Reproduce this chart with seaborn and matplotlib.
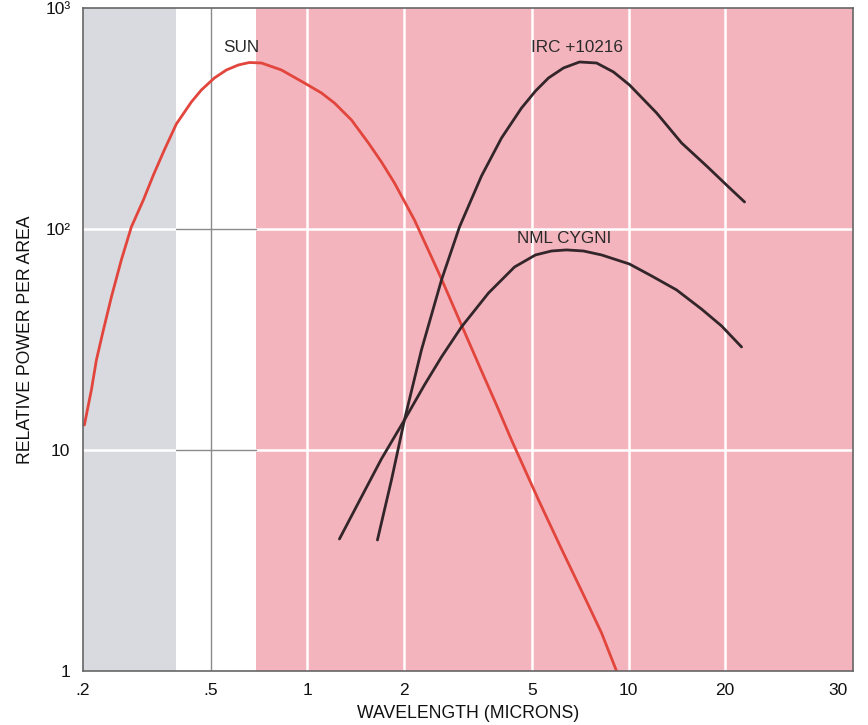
import matplotlib
matplotlib.use("Agg")
import matplotlib.pyplot as plt
import seaborn as sns
import pandas as pd

# ---- data ----
sun_wl = [0.2020, 0.2124, 0.2202, 0.2315, 0.2452, 0.2633, 0.2829, 0.3084, 0.3314,
          0.3584, 0.3907, 0.4351, 0.4674, 0.5133, 0.5595, 0.6096, 0.6596, 0.7190,
          0.8298, 0.9787, 1.1055, 1.2138, 1.3713, 1.5488, 1.7003, 1.8665, 2.1544,
          2.4337, 2.6150, 3.0180, 3.4842, 3.8800, 4.3200, 5.244, 6.183, 7.293,
          8.240, 9.175]
sun_pw = [12.97, 18.68, 25.54, 34.91, 49.25, 72.4, 102.1, 135.3, 175.5,
          227.8, 298.7, 375.5, 425.6, 482.4, 524.2, 552.2, 566.6, 563.7,
          524.2, 457.7, 412.6, 371.6, 311.3, 245.0, 201.0, 161.5, 109.8,
          74.7, 59.4, 36.78, 22.78, 15.98, 11.10, 5.94, 3.565, 2.162,
          1.486, 1.0]

irc_wl = [1.652, 1.827, 2.005, 2.265, 2.615, 2.975, 3.484, 4.022, 4.642, 5.132,
          5.633, 6.273, 7.037, 7.951, 8.979, 10.07, 12.23, 14.63, 17.50, 20.49,
          22.98]
irc_pw = [3.915, 7.32, 13.67, 28.35, 58.8, 102.1, 173.7, 258.1, 352.7, 421.1,
          482.4, 535.3, 569.6, 563.7, 513.3, 448.3, 334.9, 245.0, 192.8, 154.9,
          132.5]

nml_wl = [1.258, 1.473, 1.700, 2.005, 2.314, 2.615, 3.018, 3.664, 4.415, 5.132,
          5.755, 6.411, 7.241, 8.240, 10.07, 11.80, 14.11, 16.88, 19.49, 22.49]
nml_pw = [3.957, 6.13, 9.11, 13.67, 19.68, 26.36, 36.03, 51.33, 67.3, 76.3,
          79.5, 80.4, 79.5, 76.3, 69.4, 61.3, 53.0, 43.4, 36.4, 29.25]

x_ticks = [0.2, 0.5, 1, 2, 5, 10, 20, 45]
x_tick_labels = [".2", ".5", "1", "2", "5", "10", "20", "30"]
y_ticks = [1, 10, 100, 1000]
y_tick_labels = ["1", "10", "10²", "10³"]

uv_band = (0.2, 0.391)
visible_band = (0.391, 0.694)
ir_band = (0.694, 50)

curve_labels = ["SUN", "IRC +10216", "NML CYGNI"]
label_pos = [(0.62, 610), (6.9, 610), (6.3, 84)]

# ---- plot ----
sns.set_theme(style="white")
plt.rcParams["font.family"] = ["Liberation Sans", "DejaVu Sans"]

fig = plt.figure(figsize=(8.68, 7.25), dpi=100)
ax = fig.add_axes([0.0956, 0.0745, 0.8871, 0.9145])
ax.set_xscale("log")
ax.set_yscale("log")
ax.set_xlim(0.2, 50)
ax.set_ylim(1, 1000)

ax.axvspan(*uv_band, color="#d9dae0", lw=0, zorder=0)
ax.axvspan(*visible_band, color="white", lw=0, zorder=0)
ax.axvspan(*ir_band, color="#f4b4bd", lw=0, zorder=0)

# grid lines
for yv in [10, 100]:
    ax.axhline(yv, color="white", lw=1.8, zorder=1)
    ax.plot([visible_band[0], visible_band[1]], [yv, yv], color="#8a8a8a",
            lw=1.0, zorder=1.5)
for xv in [1, 2, 5, 10, 20]:
    ax.axvline(xv, color="white", lw=1.8, zorder=1)
ax.axvline(0.5, color="#8a8a8a", lw=1.0, zorder=1.5)

sun_df = pd.DataFrame({"wl": sun_wl, "pw": sun_pw})
irc_df = pd.DataFrame({"wl": irc_wl, "pw": irc_pw})
nml_df = pd.DataFrame({"wl": nml_wl, "pw": nml_pw})

sns.lineplot(data=sun_df, x="wl", y="pw", ax=ax, color="#e2453c", lw=2.0,
             estimator=None, sort=False, zorder=3)
sns.lineplot(data=irc_df, x="wl", y="pw", ax=ax, color="#33262a", lw=2.0,
             estimator=None, sort=False, zorder=3)
sns.lineplot(data=nml_df, x="wl", y="pw", ax=ax, color="#33262a", lw=2.0,
             estimator=None, sort=False, zorder=3)

for txt, (lx, ly) in zip(curve_labels, label_pos):
    ax.text(lx, ly, txt, ha="center", va="bottom", fontsize=12.3,
            color="#2a2a2a", zorder=4)

ax.set_xticks(x_ticks)
ax.set_xticklabels(x_tick_labels)
ax.set_yticks(y_ticks)
ax.set_yticklabels(y_tick_labels)
ax.minorticks_off()
ax.tick_params(axis="both", length=0, labelsize=12.5, colors="#111111")
ax.tick_params(axis="x", pad=9)
ax.tick_params(axis="y", pad=9)

ax.set_xlabel("WAVELENGTH (MICRONS)", fontsize=12.7, color="#111111", labelpad=5)
ax.set_ylabel("RELATIVE POWER PER AREA", fontsize=12.7, color="#111111", labelpad=8)

for s in ax.spines.values():
    s.set_color("#666666")
    s.set_linewidth(1.2)
    s.set_zorder(5)

fig.savefig("out.png", dpi=100)
